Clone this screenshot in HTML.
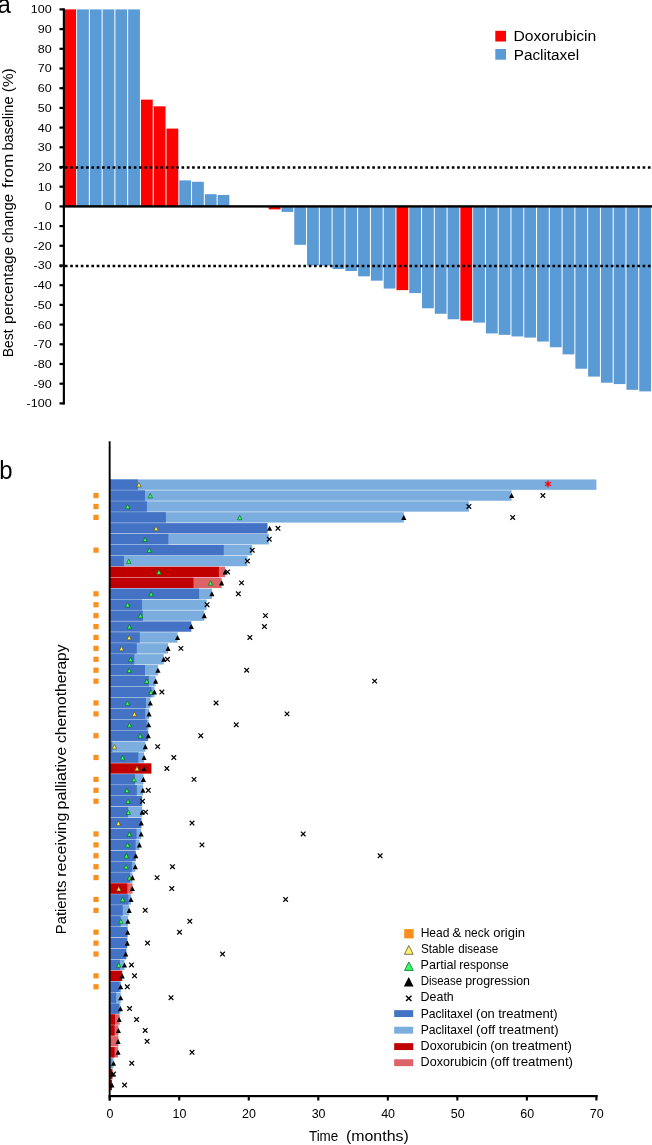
<!DOCTYPE html>
<html lang="en"><head><meta charset="utf-8"><title>Figure</title>
<style>
html,body{margin:0;padding:0;background:#fff;}
body{width:652px;height:1145px;overflow:hidden;}
svg{display:block;will-change:transform;}
text{font-family:"Liberation Sans",sans-serif;fill:#000;}
.ta{font-size:11.5px;}
.tb{font-size:12.8px;}
.yt{font-size:15.3px;}
.xt{font-size:15.3px;}
.pl{font-size:26px;}
.lg{font-size:15.3px;}
.lb{font-size:12.0px;}
</style></head><body>
<svg width="652" height="1145" viewBox="0 0 652 1145">
<rect width="652" height="1145" fill="#fff"/>
<rect x="64.28" y="9.40" width="11.78" height="197.00" fill="#FF0000"/>
<rect x="77.06" y="9.40" width="11.78" height="197.00" fill="#5B9BD5"/>
<rect x="89.83" y="9.40" width="11.78" height="197.00" fill="#5B9BD5"/>
<rect x="102.61" y="9.40" width="11.78" height="197.00" fill="#5B9BD5"/>
<rect x="115.39" y="9.40" width="11.78" height="197.00" fill="#5B9BD5"/>
<rect x="128.16" y="9.40" width="11.78" height="197.00" fill="#5B9BD5"/>
<rect x="140.94" y="99.63" width="11.78" height="106.77" fill="#FF0000"/>
<rect x="153.72" y="106.32" width="11.78" height="100.08" fill="#FF0000"/>
<rect x="166.50" y="128.59" width="11.78" height="77.81" fill="#FF0000"/>
<rect x="179.27" y="180.40" width="11.78" height="26.00" fill="#5B9BD5"/>
<rect x="192.05" y="181.78" width="11.78" height="24.62" fill="#5B9BD5"/>
<rect x="204.83" y="194.19" width="11.78" height="12.21" fill="#5B9BD5"/>
<rect x="217.60" y="194.97" width="11.78" height="11.43" fill="#5B9BD5"/>
<rect x="268.71" y="206.40" width="11.78" height="2.96" fill="#FF0000"/>
<rect x="281.49" y="206.40" width="11.78" height="5.52" fill="#5B9BD5"/>
<rect x="294.27" y="206.40" width="11.78" height="38.41" fill="#5B9BD5"/>
<rect x="307.04" y="206.40" width="11.78" height="59.10" fill="#5B9BD5"/>
<rect x="319.82" y="206.40" width="11.78" height="59.10" fill="#5B9BD5"/>
<rect x="332.60" y="206.40" width="11.78" height="62.65" fill="#5B9BD5"/>
<rect x="345.37" y="206.40" width="11.78" height="64.62" fill="#5B9BD5"/>
<rect x="358.15" y="206.40" width="11.78" height="69.94" fill="#5B9BD5"/>
<rect x="370.93" y="206.40" width="11.78" height="74.27" fill="#5B9BD5"/>
<rect x="383.70" y="206.40" width="11.78" height="82.15" fill="#5B9BD5"/>
<rect x="396.48" y="206.40" width="11.78" height="83.72" fill="#FF0000"/>
<rect x="409.26" y="206.40" width="11.78" height="86.68" fill="#5B9BD5"/>
<rect x="422.04" y="206.40" width="11.78" height="101.85" fill="#5B9BD5"/>
<rect x="434.81" y="206.40" width="11.78" height="107.36" fill="#5B9BD5"/>
<rect x="447.59" y="206.40" width="11.78" height="112.88" fill="#5B9BD5"/>
<rect x="460.37" y="206.40" width="11.78" height="114.26" fill="#FF0000"/>
<rect x="473.14" y="206.40" width="11.78" height="116.23" fill="#5B9BD5"/>
<rect x="485.92" y="206.40" width="11.78" height="127.06" fill="#5B9BD5"/>
<rect x="498.70" y="206.40" width="11.78" height="128.44" fill="#5B9BD5"/>
<rect x="511.48" y="206.40" width="11.78" height="130.02" fill="#5B9BD5"/>
<rect x="524.25" y="206.40" width="11.78" height="131.20" fill="#5B9BD5"/>
<rect x="537.03" y="206.40" width="11.78" height="135.14" fill="#5B9BD5"/>
<rect x="549.81" y="206.40" width="11.78" height="140.85" fill="#5B9BD5"/>
<rect x="562.58" y="206.40" width="11.78" height="147.95" fill="#5B9BD5"/>
<rect x="575.36" y="206.40" width="11.78" height="162.33" fill="#5B9BD5"/>
<rect x="588.14" y="206.40" width="11.78" height="170.21" fill="#5B9BD5"/>
<rect x="600.91" y="206.40" width="11.78" height="176.31" fill="#5B9BD5"/>
<rect x="613.69" y="206.40" width="11.78" height="177.69" fill="#5B9BD5"/>
<rect x="626.47" y="206.40" width="11.78" height="183.41" fill="#5B9BD5"/>
<rect x="639.24" y="206.40" width="11.78" height="184.98" fill="#5B9BD5"/>
<line x1="59.6" x2="652" y1="167.50" y2="167.50" stroke="#000" stroke-width="2.4" stroke-dasharray="2.65 2.65"/>
<line x1="59.6" x2="652" y1="266.00" y2="266.00" stroke="#000" stroke-width="2.4" stroke-dasharray="2.65 2.65"/>
<rect x="62.8" y="205.20" width="589.2" height="2.4" fill="#000"/>
<rect x="62.8" y="8.3" width="2.15" height="396.30" fill="#000"/>
<rect x="59.5" y="402.30" width="4" height="2.2" fill="#000"/>
<text class="ta" transform="translate(51.70,407.30) scale(1.0900,1)" text-anchor="end">-100</text>
<rect x="59.5" y="382.60" width="4" height="2.2" fill="#000"/>
<text class="ta" transform="translate(51.70,387.60) scale(1.0900,1)" text-anchor="end">-90</text>
<rect x="59.5" y="362.90" width="4" height="2.2" fill="#000"/>
<text class="ta" transform="translate(51.70,367.90) scale(1.0900,1)" text-anchor="end">-80</text>
<rect x="59.5" y="343.20" width="4" height="2.2" fill="#000"/>
<text class="ta" transform="translate(51.70,348.20) scale(1.0900,1)" text-anchor="end">-70</text>
<rect x="59.5" y="323.50" width="4" height="2.2" fill="#000"/>
<text class="ta" transform="translate(51.70,328.50) scale(1.0900,1)" text-anchor="end">-60</text>
<rect x="59.5" y="303.80" width="4" height="2.2" fill="#000"/>
<text class="ta" transform="translate(51.70,308.80) scale(1.0900,1)" text-anchor="end">-50</text>
<rect x="59.5" y="284.10" width="4" height="2.2" fill="#000"/>
<text class="ta" transform="translate(51.70,289.10) scale(1.0900,1)" text-anchor="end">-40</text>
<rect x="59.5" y="264.40" width="4" height="2.2" fill="#000"/>
<text class="ta" transform="translate(51.70,269.40) scale(1.0900,1)" text-anchor="end">-30</text>
<rect x="59.5" y="244.70" width="4" height="2.2" fill="#000"/>
<text class="ta" transform="translate(51.70,249.70) scale(1.0900,1)" text-anchor="end">-20</text>
<rect x="59.5" y="225.00" width="4" height="2.2" fill="#000"/>
<text class="ta" transform="translate(51.70,230.00) scale(1.0900,1)" text-anchor="end">-10</text>
<rect x="59.5" y="205.30" width="4" height="2.2" fill="#000"/>
<text class="ta" transform="translate(51.70,210.30) scale(1.0900,1)" text-anchor="end">0</text>
<rect x="59.5" y="185.60" width="4" height="2.2" fill="#000"/>
<text class="ta" transform="translate(51.70,190.60) scale(1.0900,1)" text-anchor="end">10</text>
<rect x="59.5" y="165.90" width="4" height="2.2" fill="#000"/>
<text class="ta" transform="translate(51.70,170.90) scale(1.0900,1)" text-anchor="end">20</text>
<rect x="59.5" y="146.20" width="4" height="2.2" fill="#000"/>
<text class="ta" transform="translate(51.70,151.20) scale(1.0900,1)" text-anchor="end">30</text>
<rect x="59.5" y="126.50" width="4" height="2.2" fill="#000"/>
<text class="ta" transform="translate(51.70,131.50) scale(1.0900,1)" text-anchor="end">40</text>
<rect x="59.5" y="106.80" width="4" height="2.2" fill="#000"/>
<text class="ta" transform="translate(51.70,111.80) scale(1.0900,1)" text-anchor="end">50</text>
<rect x="59.5" y="87.10" width="4" height="2.2" fill="#000"/>
<text class="ta" transform="translate(51.70,92.10) scale(1.0900,1)" text-anchor="end">60</text>
<rect x="59.5" y="67.40" width="4" height="2.2" fill="#000"/>
<text class="ta" transform="translate(51.70,72.40) scale(1.0900,1)" text-anchor="end">70</text>
<rect x="59.5" y="47.70" width="4" height="2.2" fill="#000"/>
<text class="ta" transform="translate(51.70,52.70) scale(1.0900,1)" text-anchor="end">80</text>
<rect x="59.5" y="28.00" width="4" height="2.2" fill="#000"/>
<text class="ta" transform="translate(51.70,33.00) scale(1.0900,1)" text-anchor="end">90</text>
<rect x="59.5" y="8.30" width="4" height="2.2" fill="#000"/>
<text class="ta" transform="translate(51.70,13.30) scale(1.0900,1)" text-anchor="end">100</text>
<text class="yt" transform="translate(12.90,357.31) rotate(-90) scale(0.9102,1)">Best</text>
<text class="yt" transform="translate(12.90,323.88) rotate(-90) scale(1.0051,1)">percentage</text>
<text class="yt" transform="translate(12.90,243.10) rotate(-90) scale(0.9824,1)">change</text>
<text class="yt" transform="translate(12.90,188.07) rotate(-90) scale(1.1234,1)">from</text>
<text class="yt" transform="translate(12.90,150.62) rotate(-90) scale(0.9505,1)">baseline</text>
<text class="yt" transform="translate(12.90,92.22) rotate(-90) scale(1.0010,1)">(%)</text>
<text class="pl" transform="translate(-2.60,12.60) scale(0.9200,1)">a</text>
<rect x="495.3" y="30.8" width="10.7" height="10.7" fill="#FF0000"/>
<rect x="495.3" y="49.0" width="10.7" height="10.7" fill="#5B9BD5"/>
<text class="lg" transform="translate(513.44,41.00) scale(1.0262,1)">Doxorubicin</text>
<text class="lg" transform="translate(513.67,59.60) scale(1.0018,1)">Paclitaxel</text>
<rect x="109.7" y="479.45" width="486.71" height="10.37" fill="#7BADDE"/>
<rect x="109.7" y="479.45" width="28.16" height="10.37" fill="#4472C4"/>
<rect x="109.7" y="490.37" width="401.88" height="10.37" fill="#7BADDE"/>
<rect x="109.7" y="490.37" width="35.32" height="10.37" fill="#4472C4"/>
<rect x="93.4" y="492.96" width="5.2" height="5.2" fill="#FA8F1E"/>
<rect x="109.7" y="501.29" width="359.19" height="10.37" fill="#7BADDE"/>
<rect x="109.7" y="501.29" width="37.20" height="10.37" fill="#4472C4"/>
<rect x="93.4" y="503.87" width="5.2" height="5.2" fill="#FA8F1E"/>
<rect x="109.7" y="512.20" width="294.11" height="10.37" fill="#7BADDE"/>
<rect x="109.7" y="512.20" width="56.18" height="10.37" fill="#4472C4"/>
<rect x="93.4" y="514.79" width="5.2" height="5.2" fill="#FA8F1E"/>
<rect x="109.7" y="523.12" width="157.83" height="10.37" fill="#4472C4"/>
<rect x="109.7" y="534.04" width="159.22" height="10.37" fill="#7BADDE"/>
<rect x="109.7" y="534.04" width="58.61" height="10.37" fill="#4472C4"/>
<rect x="109.7" y="544.95" width="142.54" height="10.37" fill="#7BADDE"/>
<rect x="109.7" y="544.95" width="114.03" height="10.37" fill="#4472C4"/>
<rect x="93.4" y="547.54" width="5.2" height="5.2" fill="#FA8F1E"/>
<rect x="109.7" y="555.87" width="137.67" height="10.37" fill="#7BADDE"/>
<rect x="109.7" y="555.87" width="14.18" height="10.37" fill="#4472C4"/>
<rect x="109.7" y="566.78" width="115.42" height="10.37" fill="#DC6468"/>
<rect x="109.7" y="566.78" width="109.16" height="10.37" fill="#C00000"/>
<rect x="109.7" y="577.70" width="111.94" height="10.37" fill="#DC6468"/>
<rect x="109.7" y="577.70" width="83.78" height="10.37" fill="#C00000"/>
<rect x="109.7" y="588.62" width="102.21" height="10.37" fill="#7BADDE"/>
<rect x="109.7" y="588.62" width="89.35" height="10.37" fill="#4472C4"/>
<rect x="93.4" y="591.20" width="5.2" height="5.2" fill="#FA8F1E"/>
<rect x="109.7" y="599.53" width="96.99" height="10.37" fill="#7BADDE"/>
<rect x="109.7" y="599.53" width="32.26" height="10.37" fill="#4472C4"/>
<rect x="93.4" y="602.12" width="5.2" height="5.2" fill="#FA8F1E"/>
<rect x="109.7" y="610.45" width="94.56" height="10.37" fill="#7BADDE"/>
<rect x="109.7" y="610.45" width="33.17" height="10.37" fill="#4472C4"/>
<rect x="93.4" y="613.03" width="5.2" height="5.2" fill="#FA8F1E"/>
<rect x="109.7" y="621.36" width="81.63" height="10.37" fill="#4472C4"/>
<rect x="93.4" y="623.95" width="5.2" height="5.2" fill="#FA8F1E"/>
<rect x="109.7" y="632.28" width="67.86" height="10.37" fill="#7BADDE"/>
<rect x="109.7" y="632.28" width="30.11" height="10.37" fill="#4472C4"/>
<rect x="93.4" y="634.86" width="5.2" height="5.2" fill="#FA8F1E"/>
<rect x="109.7" y="643.20" width="58.34" height="10.37" fill="#7BADDE"/>
<rect x="109.7" y="643.20" width="27.05" height="10.37" fill="#4472C4"/>
<rect x="93.4" y="645.78" width="5.2" height="5.2" fill="#FA8F1E"/>
<rect x="109.7" y="654.11" width="54.02" height="10.37" fill="#7BADDE"/>
<rect x="109.7" y="654.11" width="24.61" height="10.37" fill="#4472C4"/>
<rect x="93.4" y="656.70" width="5.2" height="5.2" fill="#FA8F1E"/>
<rect x="109.7" y="665.03" width="48.25" height="10.37" fill="#7BADDE"/>
<rect x="109.7" y="665.03" width="35.25" height="10.37" fill="#4472C4"/>
<rect x="93.4" y="667.61" width="5.2" height="5.2" fill="#FA8F1E"/>
<rect x="109.7" y="675.94" width="45.96" height="10.37" fill="#7BADDE"/>
<rect x="109.7" y="675.94" width="39.08" height="10.37" fill="#4472C4"/>
<rect x="93.4" y="678.53" width="5.2" height="5.2" fill="#FA8F1E"/>
<rect x="109.7" y="686.86" width="44.78" height="10.37" fill="#7BADDE"/>
<rect x="109.7" y="686.86" width="41.72" height="10.37" fill="#4472C4"/>
<rect x="109.7" y="697.78" width="40.61" height="10.37" fill="#7BADDE"/>
<rect x="109.7" y="697.78" width="36.29" height="10.37" fill="#4472C4"/>
<rect x="93.4" y="700.36" width="5.2" height="5.2" fill="#FA8F1E"/>
<rect x="109.7" y="708.69" width="39.35" height="10.37" fill="#7BADDE"/>
<rect x="109.7" y="708.69" width="35.53" height="10.37" fill="#4472C4"/>
<rect x="93.4" y="711.28" width="5.2" height="5.2" fill="#FA8F1E"/>
<rect x="109.7" y="719.61" width="38.94" height="10.37" fill="#7BADDE"/>
<rect x="109.7" y="719.61" width="37.06" height="10.37" fill="#4472C4"/>
<rect x="109.7" y="730.52" width="38.59" height="10.37" fill="#7BADDE"/>
<rect x="109.7" y="730.52" width="38.17" height="10.37" fill="#4472C4"/>
<rect x="93.4" y="733.11" width="5.2" height="5.2" fill="#FA8F1E"/>
<rect x="109.7" y="741.44" width="35.67" height="10.37" fill="#7BADDE"/>
<rect x="109.7" y="741.44" width="2.57" height="10.37" fill="#4472C4"/>
<rect x="109.7" y="752.36" width="34.35" height="10.37" fill="#7BADDE"/>
<rect x="109.7" y="752.36" width="28.65" height="10.37" fill="#4472C4"/>
<rect x="93.4" y="754.94" width="5.2" height="5.2" fill="#FA8F1E"/>
<rect x="109.7" y="763.27" width="41.72" height="10.37" fill="#C00000"/>
<rect x="109.7" y="774.19" width="33.72" height="10.37" fill="#7BADDE"/>
<rect x="109.7" y="774.19" width="25.31" height="10.37" fill="#4472C4"/>
<rect x="93.4" y="776.77" width="5.2" height="5.2" fill="#FA8F1E"/>
<rect x="109.7" y="785.10" width="33.24" height="10.37" fill="#7BADDE"/>
<rect x="109.7" y="785.10" width="27.12" height="10.37" fill="#4472C4"/>
<rect x="93.4" y="787.69" width="5.2" height="5.2" fill="#FA8F1E"/>
<rect x="109.7" y="796.02" width="32.47" height="10.37" fill="#4472C4"/>
<rect x="93.4" y="798.60" width="5.2" height="5.2" fill="#FA8F1E"/>
<rect x="109.7" y="806.94" width="32.47" height="10.37" fill="#7BADDE"/>
<rect x="109.7" y="806.94" width="18.36" height="10.37" fill="#4472C4"/>
<rect x="109.7" y="817.85" width="31.71" height="10.37" fill="#4472C4"/>
<rect x="109.7" y="828.77" width="31.43" height="10.37" fill="#7BADDE"/>
<rect x="109.7" y="828.77" width="26.84" height="10.37" fill="#4472C4"/>
<rect x="93.4" y="831.35" width="5.2" height="5.2" fill="#FA8F1E"/>
<rect x="109.7" y="839.68" width="29.69" height="10.37" fill="#7BADDE"/>
<rect x="109.7" y="839.68" width="25.87" height="10.37" fill="#4472C4"/>
<rect x="93.4" y="842.27" width="5.2" height="5.2" fill="#FA8F1E"/>
<rect x="109.7" y="850.60" width="26.07" height="10.37" fill="#4472C4"/>
<rect x="93.4" y="853.18" width="5.2" height="5.2" fill="#FA8F1E"/>
<rect x="109.7" y="861.52" width="25.59" height="10.37" fill="#7BADDE"/>
<rect x="109.7" y="861.52" width="22.18" height="10.37" fill="#4472C4"/>
<rect x="93.4" y="864.10" width="5.2" height="5.2" fill="#FA8F1E"/>
<rect x="109.7" y="872.43" width="22.81" height="10.37" fill="#7BADDE"/>
<rect x="109.7" y="872.43" width="20.37" height="10.37" fill="#4472C4"/>
<rect x="93.4" y="875.02" width="5.2" height="5.2" fill="#FA8F1E"/>
<rect x="109.7" y="883.35" width="22.81" height="10.37" fill="#DC6468"/>
<rect x="109.7" y="883.35" width="17.59" height="10.37" fill="#C00000"/>
<rect x="109.7" y="894.26" width="21.28" height="10.37" fill="#7BADDE"/>
<rect x="109.7" y="894.26" width="18.70" height="10.37" fill="#4472C4"/>
<rect x="93.4" y="896.85" width="5.2" height="5.2" fill="#FA8F1E"/>
<rect x="109.7" y="905.18" width="19.47" height="10.37" fill="#7BADDE"/>
<rect x="109.7" y="905.18" width="13.00" height="10.37" fill="#4472C4"/>
<rect x="93.4" y="907.76" width="5.2" height="5.2" fill="#FA8F1E"/>
<rect x="109.7" y="916.10" width="18.22" height="10.37" fill="#7BADDE"/>
<rect x="109.7" y="916.10" width="10.99" height="10.37" fill="#4472C4"/>
<rect x="109.7" y="927.01" width="17.94" height="10.37" fill="#4472C4"/>
<rect x="93.4" y="929.60" width="5.2" height="5.2" fill="#FA8F1E"/>
<rect x="109.7" y="937.93" width="17.59" height="10.37" fill="#4472C4"/>
<rect x="93.4" y="940.51" width="5.2" height="5.2" fill="#FA8F1E"/>
<rect x="109.7" y="948.84" width="16.69" height="10.37" fill="#4472C4"/>
<rect x="93.4" y="951.43" width="5.2" height="5.2" fill="#FA8F1E"/>
<rect x="109.7" y="959.76" width="14.81" height="10.37" fill="#7BADDE"/>
<rect x="109.7" y="959.76" width="10.22" height="10.37" fill="#4472C4"/>
<rect x="109.7" y="970.68" width="12.52" height="10.37" fill="#C00000"/>
<rect x="93.4" y="973.26" width="5.2" height="5.2" fill="#FA8F1E"/>
<rect x="109.7" y="981.59" width="11.33" height="10.37" fill="#7BADDE"/>
<rect x="109.7" y="981.59" width="9.94" height="10.37" fill="#4472C4"/>
<rect x="93.4" y="984.18" width="5.2" height="5.2" fill="#FA8F1E"/>
<rect x="109.7" y="992.51" width="10.99" height="10.37" fill="#7BADDE"/>
<rect x="109.7" y="992.51" width="6.40" height="10.37" fill="#4472C4"/>
<rect x="109.7" y="1003.42" width="10.71" height="10.37" fill="#7BADDE"/>
<rect x="109.7" y="1003.42" width="9.46" height="10.37" fill="#4472C4"/>
<rect x="109.7" y="1014.34" width="9.94" height="10.37" fill="#DC6468"/>
<rect x="109.7" y="1014.34" width="5.35" height="10.37" fill="#C00000"/>
<rect x="109.7" y="1025.26" width="8.69" height="10.37" fill="#DC6468"/>
<rect x="109.7" y="1025.26" width="4.87" height="10.37" fill="#C00000"/>
<rect x="109.7" y="1036.17" width="8.69" height="10.37" fill="#DC6468"/>
<rect x="109.7" y="1036.17" width="1.04" height="10.37" fill="#C00000"/>
<rect x="109.7" y="1047.09" width="8.41" height="10.37" fill="#DC6468"/>
<rect x="109.7" y="1047.09" width="4.87" height="10.37" fill="#C00000"/>
<rect x="109.7" y="1058.00" width="3.82" height="10.37" fill="#7BADDE"/>
<rect x="109.7" y="1058.00" width="1.74" height="10.37" fill="#4472C4"/>
<rect x="109.7" y="1068.92" width="2.78" height="10.37" fill="#C00000"/>
<rect x="109.7" y="1079.84" width="2.29" height="10.37" fill="#C00000"/>
<polygon points="138.90,482.49 141.15,486.99 136.65,486.99" fill="#FFEE55" stroke="#4a4a20" stroke-width="0.6" stroke-linejoin="miter"/>
<path d="M547.99 480.54L547.99 487.44M550.98 482.26L545.00 485.72M550.98 485.72L545.00 482.26" stroke="#FF0000" stroke-width="1.3" fill="none"/>
<polygon points="150.24,493.41 152.49,497.91 147.99,497.91" fill="#33FF55" stroke="#0a5a20" stroke-width="0.6" stroke-linejoin="miter"/>
<polygon points="511.58,493.01 514.13,498.11 509.03,498.11" fill="#000"/>
<path d="M540.57 493.26L545.17 497.86M540.57 497.86L545.17 493.26" stroke="#000" stroke-width="1.25" fill="none"/>
<polygon points="127.57,504.32 129.82,508.82 125.32,508.82" fill="#33FF55" stroke="#0a5a20" stroke-width="0.6" stroke-linejoin="miter"/>
<path d="M466.59 504.17L471.19 508.77M466.59 508.77L471.19 504.17" stroke="#000" stroke-width="1.25" fill="none"/>
<polygon points="239.72,515.24 241.97,519.74 237.47,519.74" fill="#33FF55" stroke="#0a5a20" stroke-width="0.6" stroke-linejoin="miter"/>
<polygon points="403.81,514.84 406.36,519.94 401.26,519.94" fill="#000"/>
<path d="M510.40 515.09L515.00 519.69M510.40 519.69L515.00 515.09" stroke="#000" stroke-width="1.25" fill="none"/>
<polygon points="156.08,526.15 158.33,530.65 153.83,530.65" fill="#FFEE55" stroke="#4a4a20" stroke-width="0.6" stroke-linejoin="miter"/>
<polygon points="269.62,525.75 272.17,530.85 267.07,530.85" fill="#000"/>
<path d="M275.66 526.00L280.26 530.60M275.66 530.60L280.26 526.00" stroke="#000" stroke-width="1.25" fill="none"/>
<polygon points="145.02,537.07 147.27,541.57 142.77,541.57" fill="#33FF55" stroke="#0a5a20" stroke-width="0.6" stroke-linejoin="miter"/>
<path d="M266.97 536.92L271.57 541.52M266.97 541.52L271.57 536.92" stroke="#000" stroke-width="1.25" fill="none"/>
<polygon points="149.33,547.99 151.58,552.49 147.08,552.49" fill="#33FF55" stroke="#0a5a20" stroke-width="0.6" stroke-linejoin="miter"/>
<path d="M249.94 547.84L254.54 552.44M249.94 552.44L254.54 547.84" stroke="#000" stroke-width="1.25" fill="none"/>
<polygon points="128.75,558.90 131.00,563.40 126.50,563.40" fill="#33FF55" stroke="#0a5a20" stroke-width="0.6" stroke-linejoin="miter"/>
<path d="M245.07 558.75L249.67 563.35M245.07 563.35L249.67 558.75" stroke="#000" stroke-width="1.25" fill="none"/>
<polygon points="158.86,569.82 161.11,574.32 156.61,574.32" fill="#33FF55" stroke="#0a5a20" stroke-width="0.6" stroke-linejoin="miter"/>
<polygon points="225.12,569.42 227.67,574.52 222.57,574.52" fill="#000"/>
<path d="M225.25 569.67L229.85 574.27M225.25 574.27L229.85 569.67" stroke="#000" stroke-width="1.25" fill="none"/>
<polygon points="210.52,580.73 212.77,585.23 208.27,585.23" fill="#33FF55" stroke="#0a5a20" stroke-width="0.6" stroke-linejoin="miter"/>
<polygon points="221.64,580.33 224.19,585.43 219.09,585.43" fill="#000"/>
<path d="M239.23 580.58L243.83 585.18M239.23 585.18L243.83 580.58" stroke="#000" stroke-width="1.25" fill="none"/>
<polygon points="151.14,591.65 153.39,596.15 148.89,596.15" fill="#33FF55" stroke="#0a5a20" stroke-width="0.6" stroke-linejoin="miter"/>
<polygon points="211.91,591.25 214.46,596.35 209.36,596.35" fill="#000"/>
<path d="M236.03 591.50L240.63 596.10M236.03 596.10L240.63 591.50" stroke="#000" stroke-width="1.25" fill="none"/>
<polygon points="127.57,602.57 129.82,607.07 125.32,607.07" fill="#33FF55" stroke="#0a5a20" stroke-width="0.6" stroke-linejoin="miter"/>
<path d="M204.74 602.42L209.34 607.02M204.74 607.02L209.34 602.42" stroke="#000" stroke-width="1.25" fill="none"/>
<polygon points="140.43,613.48 142.68,617.98 138.18,617.98" fill="#33FF55" stroke="#0a5a20" stroke-width="0.6" stroke-linejoin="miter"/>
<polygon points="204.26,613.08 206.81,618.18 201.71,618.18" fill="#000"/>
<path d="M263.15 613.33L267.75 617.93M263.15 617.93L267.75 613.33" stroke="#000" stroke-width="1.25" fill="none"/>
<polygon points="129.38,624.40 131.63,628.90 127.13,628.90" fill="#33FF55" stroke="#0a5a20" stroke-width="0.6" stroke-linejoin="miter"/>
<polygon points="191.33,624.00 193.88,629.10 188.78,629.10" fill="#000"/>
<path d="M262.10 624.25L266.70 628.85M262.10 628.85L266.70 624.25" stroke="#000" stroke-width="1.25" fill="none"/>
<polygon points="129.10,635.31 131.35,639.81 126.85,639.81" fill="#FFEE55" stroke="#4a4a20" stroke-width="0.6" stroke-linejoin="miter"/>
<polygon points="177.56,634.91 180.11,640.01 175.01,640.01" fill="#000"/>
<path d="M247.57 635.16L252.17 639.76M247.57 639.76L252.17 635.16" stroke="#000" stroke-width="1.25" fill="none"/>
<polygon points="121.45,646.23 123.70,650.73 119.20,650.73" fill="#FFEE55" stroke="#4a4a20" stroke-width="0.6" stroke-linejoin="miter"/>
<polygon points="168.04,645.83 170.59,650.93 165.49,650.93" fill="#000"/>
<path d="M178.60 646.08L183.20 650.68M178.60 650.68L183.20 646.08" stroke="#000" stroke-width="1.25" fill="none"/>
<polygon points="130.56,657.15 132.81,661.65 128.31,661.65" fill="#33FF55" stroke="#0a5a20" stroke-width="0.6" stroke-linejoin="miter"/>
<polygon points="163.72,656.75 166.27,661.85 161.17,661.85" fill="#000"/>
<path d="M165.11 657.00L169.71 661.60M165.11 661.60L169.71 657.00" stroke="#000" stroke-width="1.25" fill="none"/>
<polygon points="129.17,668.06 131.42,672.56 126.92,672.56" fill="#33FF55" stroke="#0a5a20" stroke-width="0.6" stroke-linejoin="miter"/>
<polygon points="157.95,667.66 160.50,672.76 155.40,672.76" fill="#000"/>
<path d="M244.37 667.91L248.97 672.51M244.37 672.51L248.97 667.91" stroke="#000" stroke-width="1.25" fill="none"/>
<polygon points="146.76,678.98 149.01,683.48 144.51,683.48" fill="#33FF55" stroke="#0a5a20" stroke-width="0.6" stroke-linejoin="miter"/>
<polygon points="155.66,678.58 158.21,683.68 153.11,683.68" fill="#000"/>
<path d="M372.31 678.83L376.91 683.43M372.31 683.43L376.91 678.83" stroke="#000" stroke-width="1.25" fill="none"/>
<polygon points="151.07,689.89 153.32,694.39 148.82,694.39" fill="#33FF55" stroke="#0a5a20" stroke-width="0.6" stroke-linejoin="miter"/>
<polygon points="154.48,689.49 157.03,694.59 151.93,694.59" fill="#000"/>
<path d="M159.55 689.74L164.15 694.34M159.55 694.34L164.15 689.74" stroke="#000" stroke-width="1.25" fill="none"/>
<polygon points="127.43,700.81 129.68,705.31 125.18,705.31" fill="#33FF55" stroke="#0a5a20" stroke-width="0.6" stroke-linejoin="miter"/>
<polygon points="150.31,700.41 152.86,705.51 147.76,705.51" fill="#000"/>
<path d="M213.78 700.66L218.38 705.26M213.78 705.26L218.38 700.66" stroke="#000" stroke-width="1.25" fill="none"/>
<polygon points="134.38,711.73 136.63,716.23 132.13,716.23" fill="#FFEE55" stroke="#4a4a20" stroke-width="0.6" stroke-linejoin="miter"/>
<polygon points="149.05,711.33 151.60,716.43 146.50,716.43" fill="#000"/>
<path d="M284.70 711.58L289.30 716.18M284.70 716.18L289.30 711.58" stroke="#000" stroke-width="1.25" fill="none"/>
<polygon points="129.45,722.64 131.70,727.14 127.20,727.14" fill="#33FF55" stroke="#0a5a20" stroke-width="0.6" stroke-linejoin="miter"/>
<polygon points="148.64,722.24 151.19,727.34 146.09,727.34" fill="#000"/>
<path d="M233.94 722.49L238.54 727.09M233.94 727.09L238.54 722.49" stroke="#000" stroke-width="1.25" fill="none"/>
<polygon points="140.22,733.56 142.47,738.06 137.97,738.06" fill="#33FF55" stroke="#0a5a20" stroke-width="0.6" stroke-linejoin="miter"/>
<polygon points="148.29,733.16 150.84,738.26 145.74,738.26" fill="#000"/>
<path d="M198.48 733.41L203.08 738.01M198.48 738.01L203.08 733.41" stroke="#000" stroke-width="1.25" fill="none"/>
<polygon points="114.43,744.47 116.68,748.97 112.18,748.97" fill="#FFEE55" stroke="#4a4a20" stroke-width="0.6" stroke-linejoin="miter"/>
<polygon points="145.37,744.07 147.92,749.17 142.82,749.17" fill="#000"/>
<path d="M155.38 744.32L159.98 748.92M155.38 748.92L159.98 744.32" stroke="#000" stroke-width="1.25" fill="none"/>
<polygon points="122.56,755.39 124.81,759.89 120.31,759.89" fill="#33FF55" stroke="#0a5a20" stroke-width="0.6" stroke-linejoin="miter"/>
<polygon points="144.05,754.99 146.60,760.09 141.50,760.09" fill="#000"/>
<path d="M171.51 755.24L176.11 759.84M171.51 759.84L176.11 755.24" stroke="#000" stroke-width="1.25" fill="none"/>
<polygon points="136.96,766.31 139.21,770.81 134.71,770.81" fill="#FFEE55" stroke="#4a4a20" stroke-width="0.6" stroke-linejoin="miter"/>
<polygon points="143.91,765.91 146.46,771.01 141.36,771.01" fill="#000"/>
<path d="M164.55 766.16L169.15 770.76M164.55 770.76L169.15 766.16" stroke="#000" stroke-width="1.25" fill="none"/>
<polygon points="134.04,777.22 136.29,781.72 131.79,781.72" fill="#33FF55" stroke="#0a5a20" stroke-width="0.6" stroke-linejoin="miter"/>
<polygon points="143.42,776.82 145.97,781.92 140.87,781.92" fill="#000"/>
<path d="M191.74 777.07L196.34 781.67M191.74 781.67L196.34 777.07" stroke="#000" stroke-width="1.25" fill="none"/>
<polygon points="127.01,788.14 129.26,792.64 124.76,792.64" fill="#33FF55" stroke="#0a5a20" stroke-width="0.6" stroke-linejoin="miter"/>
<polygon points="142.94,787.74 145.49,792.84 140.39,792.84" fill="#000"/>
<path d="M145.99 787.99L150.59 792.59M145.99 792.59L150.59 787.99" stroke="#000" stroke-width="1.25" fill="none"/>
<polygon points="128.06,799.05 130.31,803.55 125.81,803.55" fill="#33FF55" stroke="#0a5a20" stroke-width="0.6" stroke-linejoin="miter"/>
<path d="M140.22 798.90L144.82 803.50M140.22 803.50L144.82 798.90" stroke="#000" stroke-width="1.25" fill="none"/>
<polygon points="128.40,809.97 130.65,814.47 126.15,814.47" fill="#33FF55" stroke="#0a5a20" stroke-width="0.6" stroke-linejoin="miter"/>
<polygon points="142.17,809.57 144.72,814.67 139.62,814.67" fill="#000"/>
<path d="M143.28 809.82L147.88 814.42M143.28 814.42L147.88 809.82" stroke="#000" stroke-width="1.25" fill="none"/>
<polygon points="118.39,820.89 120.64,825.39 116.14,825.39" fill="#FFEE55" stroke="#4a4a20" stroke-width="0.6" stroke-linejoin="miter"/>
<polygon points="141.27,820.49 143.82,825.59 138.72,825.59" fill="#000"/>
<path d="M189.72 820.74L194.32 825.34M189.72 825.34L194.32 820.74" stroke="#000" stroke-width="1.25" fill="none"/>
<polygon points="129.31,831.80 131.56,836.30 127.06,836.30" fill="#33FF55" stroke="#0a5a20" stroke-width="0.6" stroke-linejoin="miter"/>
<polygon points="141.13,831.40 143.68,836.50 138.58,836.50" fill="#000"/>
<path d="M300.90 831.65L305.50 836.25M300.90 836.25L305.50 831.65" stroke="#000" stroke-width="1.25" fill="none"/>
<polygon points="127.64,842.72 129.89,847.22 125.39,847.22" fill="#33FF55" stroke="#0a5a20" stroke-width="0.6" stroke-linejoin="miter"/>
<polygon points="139.39,842.32 141.94,847.42 136.84,847.42" fill="#000"/>
<path d="M199.67 842.57L204.27 847.17M199.67 847.17L204.27 842.57" stroke="#000" stroke-width="1.25" fill="none"/>
<polygon points="126.39,853.63 128.64,858.13 124.14,858.13" fill="#33FF55" stroke="#0a5a20" stroke-width="0.6" stroke-linejoin="miter"/>
<polygon points="135.77,853.23 138.32,858.33 133.22,858.33" fill="#000"/>
<path d="M377.80 853.48L382.40 858.08M377.80 858.08L382.40 853.48" stroke="#000" stroke-width="1.25" fill="none"/>
<polygon points="126.11,864.55 128.36,869.05 123.86,869.05" fill="#33FF55" stroke="#0a5a20" stroke-width="0.6" stroke-linejoin="miter"/>
<polygon points="135.29,864.15 137.84,869.25 132.74,869.25" fill="#000"/>
<path d="M170.19 864.40L174.79 869.00M170.19 869.00L174.79 864.40" stroke="#000" stroke-width="1.25" fill="none"/>
<polygon points="129.45,875.47 131.70,879.97 127.20,879.97" fill="#33FF55" stroke="#0a5a20" stroke-width="0.6" stroke-linejoin="miter"/>
<polygon points="132.51,875.07 135.06,880.17 129.96,880.17" fill="#000"/>
<path d="M154.75 875.32L159.35 879.92M154.75 879.92L159.35 875.32" stroke="#000" stroke-width="1.25" fill="none"/>
<polygon points="118.74,886.38 120.99,890.88 116.49,890.88" fill="#FFEE55" stroke="#4a4a20" stroke-width="0.6" stroke-linejoin="miter"/>
<polygon points="132.37,885.98 134.92,891.08 129.82,891.08" fill="#000"/>
<path d="M169.49 886.23L174.09 890.83M169.49 890.83L174.09 886.23" stroke="#000" stroke-width="1.25" fill="none"/>
<polygon points="122.56,897.30 124.81,901.80 120.31,901.80" fill="#33FF55" stroke="#0a5a20" stroke-width="0.6" stroke-linejoin="miter"/>
<polygon points="130.98,896.90 133.53,902.00 128.43,902.00" fill="#000"/>
<path d="M283.31 897.15L287.91 901.75M283.31 901.75L287.91 897.15" stroke="#000" stroke-width="1.25" fill="none"/>
<polygon points="129.17,907.81 131.72,912.91 126.62,912.91" fill="#000"/>
<path d="M142.93 908.06L147.53 912.66M142.93 912.66L147.53 908.06" stroke="#000" stroke-width="1.25" fill="none"/>
<polygon points="120.82,919.13 123.07,923.63 118.57,923.63" fill="#33FF55" stroke="#0a5a20" stroke-width="0.6" stroke-linejoin="miter"/>
<polygon points="127.92,918.73 130.47,923.83 125.37,923.83" fill="#000"/>
<path d="M187.50 918.98L192.10 923.58M187.50 923.58L192.10 918.98" stroke="#000" stroke-width="1.25" fill="none"/>
<polygon points="127.64,929.65 130.19,934.75 125.09,934.75" fill="#000"/>
<path d="M177.21 929.90L181.81 934.50M177.21 934.50L181.81 929.90" stroke="#000" stroke-width="1.25" fill="none"/>
<polygon points="127.29,940.56 129.84,945.66 124.74,945.66" fill="#000"/>
<path d="M145.22 940.81L149.82 945.41M145.22 945.41L149.82 940.81" stroke="#000" stroke-width="1.25" fill="none"/>
<polygon points="125.76,951.48 128.31,956.58 123.21,956.58" fill="#000"/>
<path d="M220.25 951.73L224.85 956.33M220.25 956.33L224.85 951.73" stroke="#000" stroke-width="1.25" fill="none"/>
<polygon points="118.74,962.79 120.99,967.29 116.49,967.29" fill="#33FF55" stroke="#0a5a20" stroke-width="0.6" stroke-linejoin="miter"/>
<polygon points="124.51,962.39 127.06,967.49 121.96,967.49" fill="#000"/>
<path d="M129.16 962.64L133.76 967.24M129.16 967.24L133.76 962.64" stroke="#000" stroke-width="1.25" fill="none"/>
<polygon points="122.22,973.31 124.77,978.41 119.67,978.41" fill="#000"/>
<path d="M132.22 973.56L136.82 978.16M132.22 978.16L136.82 973.56" stroke="#000" stroke-width="1.25" fill="none"/>
<polygon points="120.69,984.23 123.24,989.33 118.14,989.33" fill="#000"/>
<path d="M124.99 984.48L129.59 989.08M124.99 989.08L129.59 984.48" stroke="#000" stroke-width="1.25" fill="none"/>
<polygon points="120.69,995.14 123.24,1000.24 118.14,1000.24" fill="#000"/>
<path d="M168.73 995.39L173.33 999.99M168.73 999.99L173.33 995.39" stroke="#000" stroke-width="1.25" fill="none"/>
<polygon points="120.41,1006.06 122.96,1011.16 117.86,1011.16" fill="#000"/>
<path d="M127.29 1006.31L131.89 1010.91M127.29 1010.91L131.89 1006.31" stroke="#000" stroke-width="1.25" fill="none"/>
<polygon points="119.16,1016.97 121.71,1022.07 116.61,1022.07" fill="#000"/>
<path d="M134.24 1017.22L138.84 1021.82M134.24 1021.82L138.84 1017.22" stroke="#000" stroke-width="1.25" fill="none"/>
<polygon points="118.39,1027.89 120.94,1032.99 115.84,1032.99" fill="#000"/>
<path d="M142.93 1028.14L147.53 1032.74M142.93 1032.74L147.53 1028.14" stroke="#000" stroke-width="1.25" fill="none"/>
<polygon points="118.11,1038.81 120.66,1043.91 115.56,1043.91" fill="#000"/>
<path d="M144.81 1039.06L149.41 1043.66M144.81 1043.66L149.41 1039.06" stroke="#000" stroke-width="1.25" fill="none"/>
<polygon points="118.11,1049.72 120.66,1054.82 115.56,1054.82" fill="#000"/>
<path d="M189.72 1049.97L194.32 1054.57M189.72 1054.57L194.32 1049.97" stroke="#000" stroke-width="1.25" fill="none"/>
<polygon points="113.52,1060.64 116.07,1065.74 110.97,1065.74" fill="#000"/>
<path d="M129.44 1060.89L134.04 1065.49M129.44 1065.49L134.04 1060.89" stroke="#000" stroke-width="1.25" fill="none"/>
<polygon points="112.48,1071.55 115.03,1076.65 109.93,1076.65" fill="#000"/>
<path d="M111.22 1071.80L115.82 1076.40M111.22 1076.40L115.82 1071.80" stroke="#000" stroke-width="1.25" fill="none"/>
<polygon points="111.99,1082.47 114.54,1087.57 109.44,1087.57" fill="#000"/>
<path d="M122.28 1082.72L126.88 1087.32M122.28 1087.32L126.88 1082.72" stroke="#000" stroke-width="1.25" fill="none"/>
<rect x="108.7" y="441.3" width="1.9" height="659.20" fill="#000"/>
<rect x="108.7" y="1095.0" width="488.90" height="2.2" fill="#000"/>
<rect x="108.65" y="1095.1" width="2.1" height="5.4" fill="#000"/>
<text class="tb" transform="translate(110.00,1117.50) scale(0.9770,1)" text-anchor="middle">0</text>
<rect x="178.18" y="1095.1" width="2.1" height="5.4" fill="#000"/>
<text class="tb" transform="translate(179.53,1117.50) scale(0.9770,1)" text-anchor="middle">10</text>
<rect x="247.71" y="1095.1" width="2.1" height="5.4" fill="#000"/>
<text class="tb" transform="translate(249.06,1117.50) scale(0.9770,1)" text-anchor="middle">20</text>
<rect x="317.24" y="1095.1" width="2.1" height="5.4" fill="#000"/>
<text class="tb" transform="translate(318.59,1117.50) scale(0.9770,1)" text-anchor="middle">30</text>
<rect x="386.77" y="1095.1" width="2.1" height="5.4" fill="#000"/>
<text class="tb" transform="translate(388.12,1117.50) scale(0.9770,1)" text-anchor="middle">40</text>
<rect x="456.30" y="1095.1" width="2.1" height="5.4" fill="#000"/>
<text class="tb" transform="translate(457.65,1117.50) scale(0.9770,1)" text-anchor="middle">50</text>
<rect x="525.83" y="1095.1" width="2.1" height="5.4" fill="#000"/>
<text class="tb" transform="translate(527.18,1117.50) scale(0.9770,1)" text-anchor="middle">60</text>
<rect x="595.36" y="1095.1" width="2.1" height="5.4" fill="#000"/>
<text class="tb" transform="translate(596.71,1117.50) scale(0.9770,1)" text-anchor="middle">70</text>
<text class="xt" transform="translate(308.93,1141.40) scale(0.8787,1)">Time</text>
<text class="xt" transform="translate(345.95,1141.40) scale(1.0403,1)">(months)</text>
<text class="yt" transform="translate(66.30,934.19) rotate(-90) scale(0.9692,1)">Patients</text>
<text class="yt" transform="translate(66.30,876.72) rotate(-90) scale(1.0488,1)">receiving</text>
<text class="yt" transform="translate(66.30,809.53) rotate(-90) scale(1.0530,1)">palliative</text>
<text class="yt" transform="translate(66.30,743.02) rotate(-90) scale(1.0173,1)">chemotherapy</text>
<text class="pl" transform="translate(-0.80,478.60) scale(0.9200,1)">b</text>
<text class="lb" transform="translate(420.63,937.00) scale(1.0074,1)">Head</text>
<text class="lb" transform="translate(452.26,937.00) scale(1.1339,1)">&amp;</text>
<text class="lb" transform="translate(464.47,937.00) scale(0.9926,1)">neck</text>
<text class="lb" transform="translate(493.18,937.00) scale(1.0897,1)">origin</text>
<text class="lb" transform="translate(421.01,953.00) scale(0.9763,1)">Stable</text>
<text class="lb" transform="translate(458.24,953.00) scale(0.9648,1)">disease</text>
<text class="lb" transform="translate(420.59,969.00) scale(1.0533,1)">Partial</text>
<text class="lb" transform="translate(459.36,969.00) scale(1.0000,1)">response</text>
<text class="lb" transform="translate(420.68,985.00) scale(0.9551,1)">Disease</text>
<text class="lb" transform="translate(465.23,985.00) scale(1.0347,1)">progression</text>
<text class="lb" transform="translate(420.61,1001.00) scale(1.0351,1)">Death</text>
<text class="lb" transform="translate(420.63,1018.00) scale(1.0129,1)">Paclitaxel</text>
<text class="lb" transform="translate(476.12,1018.00) scale(1.0795,1)">(on</text>
<text class="lb" transform="translate(498.24,1018.00) scale(1.0882,1)">treatment)</text>
<text class="lb" transform="translate(420.63,1034.00) scale(1.0129,1)">Paclitaxel</text>
<text class="lb" transform="translate(476.10,1034.00) scale(1.1131,1)">(off</text>
<text class="lb" transform="translate(498.74,1034.00) scale(1.0956,1)">treatment)</text>
<text class="lb" transform="translate(420.59,1050.00) scale(1.0506,1)">Doxorubicin</text>
<text class="lb" transform="translate(490.24,1050.00) scale(1.0606,1)">(on</text>
<text class="lb" transform="translate(512.04,1050.00) scale(1.0975,1)">treatment)</text>
<text class="lb" transform="translate(420.59,1066.00) scale(1.0506,1)">Doxorubicin</text>
<text class="lb" transform="translate(490.21,1066.00) scale(1.1010,1)">(off</text>
<text class="lb" transform="translate(512.53,1066.00) scale(1.1068,1)">treatment)</text>
<rect x="404.2" y="929.10" width="9.5" height="9.3" fill="#FA8F1E"/>
<polygon points="408.80,945.60 413.20,954.30 404.40,954.30" fill="#FFF566" stroke="#555533" stroke-width="0.8" stroke-linejoin="miter"/>
<polygon points="408.90,961.90 413.30,970.40 404.50,970.40" fill="#33FF66" stroke="#0a6a2a" stroke-width="0.8" stroke-linejoin="miter"/>
<polygon points="408.70,976.90 413.55,986.40 403.85,986.40" fill="#000"/>
<path d="M406.05 995.70L411.45 1001.10M406.05 1001.10L411.45 995.70" stroke="#000" stroke-width="1.45" fill="none"/>
<rect x="394.2" y="1010.15" width="19" height="6.9" fill="#4472C4"/>
<rect x="394.2" y="1026.75" width="19" height="6.9" fill="#7BADDE"/>
<rect x="394.2" y="1043.15" width="19" height="6.9" fill="#C00000"/>
<rect x="394.2" y="1059.25" width="19" height="6.9" fill="#DC6468"/>
</svg>
</body></html>
